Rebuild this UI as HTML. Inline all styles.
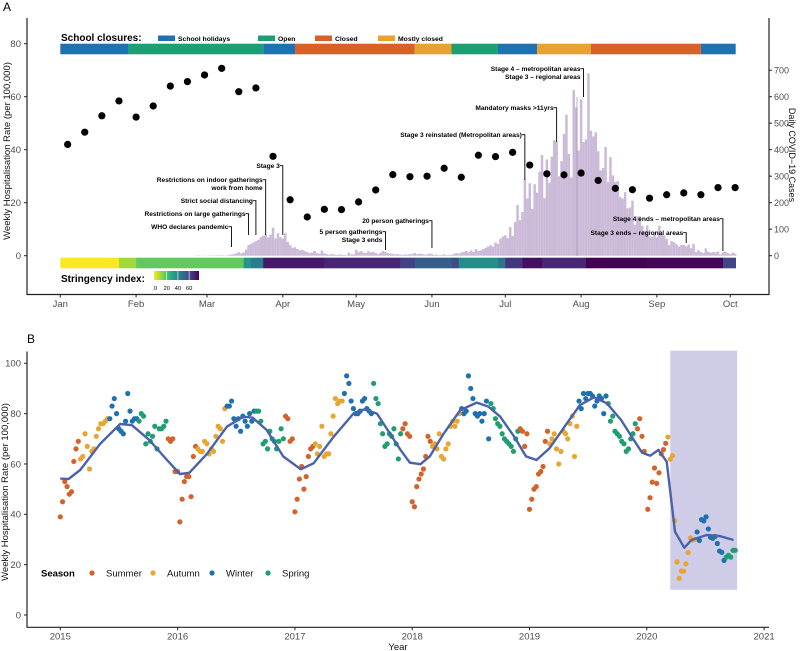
<!DOCTYPE html>
<html><head><meta charset="utf-8"><style>
html,body{margin:0;padding:0;background:#fff;}
svg{display:block;font-family:"Liberation Sans",Arial,sans-serif;}
.tk{font-size:9.5px;fill:#4d4d4d;}
.tkr{font-size:9px;fill:#4d4d4d;}
.ann{font-size:6.6px;font-weight:bold;fill:#000;}
.lg{font-size:6.8px;font-weight:bold;fill:#000;}
</style></head><body>
<svg id="chart" width="800" height="651" viewBox="0 0 800 651" xmlns="http://www.w3.org/2000/svg">
<g id="pa"></g>
<g id="pb"></g>
</svg>
<script>
// ---------- Panel A data ----------
const monthLabels = ["Jan","Feb","Mar","Apr","May","Jun","Jul","Aug","Sep","Oct"];
const monthStartDays = [0,31,60,91,121,152,182,213,244,274];
const hospTicks = [0,20,40,60,80];
const caseTicks = [0,100,200,300,400,500,600,700];
const hospWeekStartDay = 3;
const hosp2020 = [42,46.6,52.8,58.4,52.3,56.5,64,65.7,68.2,70.7,61.9,63.3,37.5,21.1,14.6,17.5,17.4,20.3,24.8,30.6,29.8,30,33,29.6,37.9,37.4,39,34.2,30.9,30.5,31.2,28.4,25.4,24.9,21.7,23,23.7,23,25.7,25.7];
const caseStartDay = 45;
const dailyCases = [0,0,0,0,0,0,0,0,0,0,0,1,1,0,1,
0,1,1,1,2,1,2,1,1,3, 5,6,9,13,8,12,23,40,45,50, 55,60,70,75,80,69,79,106,65,85,
70,65,85,52,40,30,32,25,20,22, 17,14,10,12,18,10,8,20,9,6, 4,6,5,3,5,4,3,2,12,5,
5,22,14,18,12,10,17,13,15,10, 6,12,18,14,10,8,7,5,6,4, 3,5,4,6,7,10,6,8,6,4,
5,8,6,3,4,2,3,5,2,3, 4,7,10,8,12,14,18,13,20,15, 25,18,20,25,30,35,40,34,50,45,
64,73,77,66,108,74,127,191,134,165, 288,216,273,177,270,238,317,380,217,363,
275,374,436,430,300,357,459,532,384,295, 625,560,397,590,429,439,688,471,450,466,
394,322,331,410,278,372,303,279,282,222, 216,240,179,182,208,116,148,149,113,94,
114,73,70,90,70,113,81,76,63,41, 55,51,43,35,41,41,35,42,28,45,
14,21,14,11,28,15,12,14,12,16, 5,13,15,10,6,12,8];
const closureStartDays = [0,28,83,96,145,160,179,195,217,262,277];
const closureTypes = ["School holidays","Open","School holidays","Closed","Mostly closed","Open","School holidays","Mostly closed","Closed","School holidays"];
const closureLegend = ["School holidays","Open","Closed","Mostly closed"];
const stringencyStartDays = [0,24,31,75,78,83,108,139,145,160,163,179,182,189,197,215,240,271,277];
const stringencyValues = [0,11,19,37,45,73,70,63,55,60,40,48,66,75,70,80,77,62];
const stringencyTicks = [0,20,40,60];
const annDays = [70,77,80,84,91,152,133,190,203,214,271,256];
const annLabels = [["WHO declares pandemic"],["Restrictions on large gatherings"],["Strict social distancing"],["Restrictions on indoor gatherings","work from home"],["Stage 3"],["20 person gatherings"],["5 person gatherings","Stage 3 ends"],["Stage 3 reinstated (Metropolitan areas)"],["Mandatory masks >11yrs"],["Stage 4 \u2013 metropolitan areas","Stage 3 \u2013 regional areas"],["Stage 4 ends \u2013 metropolitan areas"],["Stage 3 ends \u2013 regional areas"]];
const annTextY = [229,216,203,182,168,223,234,137,110,71,221,235];
const annBottomY = [247,235,235,235,235,248,250,180,142,97,251,243];

// ---------- Panel B data ----------
const yearTicks = [2015,2016,2017,2018,2019,2020,2021];
const rateTicks = [0,20,40,60,80,100];
const seasonNames = ["Summer","Autumn","Winter","Spring"];
const hosp2015 = [39,45,53,51,48,49,61,66,69,62,63,72,67,58,65,66,71,74,76,76,77,78,78,83,86,80,74,73,72,77,88,81,77,78,78,77,80,79,68,72,69,71,75,66,74,74,75,77,70,69,70,57];
const hosp2016 = [57,37,46,53,55,55,47,63,67,66,65,65,69,68,64,66,65,71,75,74,69,82,83,83,85,78,75,78,73,79,77,75,80,77,81,81,81,77,68,69,66,73,70,69,66,69,74,70,79,78,69,70];
const hosp2017 = [41,46,54,59,50,55,63,66,67,68,64,67,75,63,64,64,72,79,86,84,85,85,88,95,92,85,82,80,80,81,85,86,82,81,80,92,86,84,76,72,67,68,72,71,74,68,62,72,74,76,72,71];
const hosp2018 = [45,43,51,54,56,58,63,71,69,67,68,66,72,63,62,66,68,75,77,75,77,80,82,80,81,95,90,86,80,79,80,77,80,85,70,84,82,78,76,75,72,70,69,68,67,65,70,73,74,73,67,72];
const hosp2019 = [42,46,50,51,56,57,59,69,73,68,70,72,66,60,65,73,72,70,76,79,63,75,85,82,88,86,88,88,87,83,85,87,86,80,87,84,77,79,73,72,71,69,68,65,66,70,72,76,74,78,71,65];
const smoothYears = [2015.0,2015.07,2015.17,2015.34,2015.51,2015.61,2015.76,2015.91,2016.02,2016.1,2016.25,2016.42,2016.56,2016.64,2016.76,2016.9,2017.05,2017.16,2017.33,2017.5,2017.59,2017.7,2017.9,2017.98,2018.07,2018.15,2018.27,2018.41,2018.55,2018.65,2018.75,2018.87,2018.97,2019.06,2019.17,2019.32,2019.43,2019.55,2019.66,2019.78,2019.89,2019.96,2020.03,2020.1,2020.17,2020.24,2020.32,2020.38,2020.51,2020.62,2020.74];
const smoothValues = [54.2,54,57.6,68,75.9,75.4,69.5,61.6,56,56.5,64,74.8,78.8,78.4,73.5,63,57.9,60.3,70.8,80.1,81.7,80,65.6,60.5,59.9,63,72.2,81.4,84.4,82.8,78.8,70.8,63,61.6,66.2,76.2,83.4,86.5,84.1,77.5,69.5,64.5,63.3,65.6,60.9,33.1,26.7,29.8,31.8,31.4,29.8];
const covidPeriod = [2020.2, 2020.77];
const covidPeriodRange = [10, 105];

const NS="http://www.w3.org/2000/svg";
function mk(parent,tag,attrs,text){const e=document.createElementNS(NS,tag);for(const k in attrs)e.setAttribute(k,attrs[k]);if(text!==undefined)e.textContent=text;parent.appendChild(e);return e;}

// ---------- Panel A scales ----------
const xA=d=>60.3+d*2.445;
const yA=v=>255.7-v*2.65;
const yC=c=>255.7-c*0.265;
const closureColor={"School holidays":"#1f72b2","Open":"#1f9e74","Closed":"#d8612a","Mostly closed":"#e8a22f"};
const vir=[[0,68,1,84],[0.1,72,36,117],[0.2,65,68,135],[0.3,53,95,141],[0.4,42,120,142],[0.5,33,145,140],[0.6,34,168,132],[0.7,68,191,112],[0.8,122,209,81],[0.9,189,223,38],[1,253,231,37]];
function viridis(t){t=Math.max(0,Math.min(1,t));for(let i=1;i<vir.length;i++){if(t<=vir[i][0]){const a=vir[i-1],b=vir[i],f=(t-a[0])/(b[0]-a[0]);return `rgb(${Math.round(a[1]+f*(b[1]-a[1]))},${Math.round(a[2]+f*(b[2]-a[2]))},${Math.round(a[3]+f*(b[3]-a[3]))})`;}}return "rgb(253,231,37)";}
const sColor=v=>viridis(1-v/78);

const pa=document.getElementById('pa');
let t=mk(pa,'text',{x:3,y:11,'font-size':12});t.textContent="A";



// bars
const barsG=mk(pa,'g',{});


dailyCases.forEach((c,i)=>{const d=caseStartDay+i;const y=yC(c);
 const r=mk(barsG,'rect',{x:xA(d)-1.22,y:y,width:2.5,height:Math.max(0,255.7-y),fill:'#cbbad8'});
 
 
});
mk(pa,'line',{x1:577,y1:97,x2:577,y2:256,stroke:'#a08fb2','stroke-width':0.7});

// axes
let ax=mk(pa,'path',{d:'M27,18 V294.5 H769 V18',fill:'none',stroke:'#222','stroke-width':1.2});


hospTicks.forEach(v=>{mk(pa,'line',{x1:24,x2:27,y1:yA(v),y2:yA(v),stroke:'#222'});
 const e=mk(pa,'text',{x:21,y:yA(v)+3.3,'text-anchor':'end',class:'tk'},String(v));
 
 });
caseTicks.forEach(v=>{mk(pa,'line',{x1:769,x2:772,y1:yC(v),y2:yC(v),stroke:'#222'});
 const e=mk(pa,'text',{x:774,y:yC(v)+3.2,class:'tkr'},String(v));
 
 });
monthLabels.forEach((m,i)=>{const x=xA(monthStartDays[i]);mk(pa,'line',{x1:x,x2:x,y1:294.5,y2:297.5,stroke:'#222'});
 const e=mk(pa,'text',{x:x,y:307,'text-anchor':'middle',class:'tk'},m);
 
 });
t=mk(pa,'text',{transform:'translate(10,151) rotate(-90)','text-anchor':'middle','font-size':9.5,fill:'#111'},"Weekly Hospitalisation Rate (per 100,000)");


t=mk(pa,'text',{transform:'translate(789,155) rotate(90)','text-anchor':'middle','font-size':9,fill:'#111'},"Daily COVID\u221219 Cases");



// school closures
for(let i=0;i<closureTypes.length;i++){const x0=xA(closureStartDays[i]),x1=xA(closureStartDays[i+1]);
 const r=mk(pa,'rect',{x:x0,y:43.7,width:Math.min(x1,735.7)-x0,height:10.6,fill:closureColor[closureTypes[i]]});
 
 }
t=mk(pa,'text',{x:61,y:41,'font-size':10,'font-weight':'bold'},"School closures:");


const legX=[158,258,315,378];
closureLegend.forEach((n,i)=>{const g=mk(pa,'g',{});
 
 
 mk(g,'rect',{x:legX[i],y:35.5,width:17,height:5.5,fill:closureColor[n]});
 mk(g,'text',{x:legX[i]+20,y:41,class:'lg'},n);});

// stringency
for(let i=0;i<stringencyValues.length;i++){const x0=xA(stringencyStartDays[i]),x1=Math.min(xA(stringencyStartDays[i+1]),735.7);
 const r=mk(pa,'rect',{x:x0,y:257.7,width:x1-x0+0.3,height:10.6,fill:sColor(stringencyValues[i])});
 
 }
t=mk(pa,'text',{x:61,y:282,'font-size':10,'font-weight':'bold'},"Stringency index:");


const defs=mk(document.getElementById('chart'),'defs',{});
const lg=mk(defs,'linearGradient',{id:'sg',x1:0,x2:1,y1:0,y2:0});
for(let k=0;k<=10;k++)mk(lg,'stop',{offset:k/10,'stop-color':sColor(k*7.8)});
const sgr=mk(pa,'rect',{x:154,y:271,width:45,height:9,fill:'url(#sg)'});


stringencyTicks.forEach(v=>{const x=155.5+v*0.56;
 if(v>0)mk(pa,'line',{x1:x,x2:x,y1:271,y2:280,stroke:'#fff','stroke-width':0.6});
 const e=mk(pa,'text',{x:x,y:290,'text-anchor':'middle','font-size':5.8,fill:'#000'},String(v));
 
 });

// annotations
annDays.forEach((d,i)=>{const x=xA(d);const g=mk(pa,'g',{});
 
 
 const ty=annTextY[i];
 mk(g,'path',{d:`M${x-3},${ty-2.3} H${x} V${annBottomY[i]}`,fill:'none',stroke:'#000','stroke-width':0.9});
 annLabels[i].forEach((s,j)=>mk(g,'text',{x:x-3,y:ty+j*8,'text-anchor':'end',class:'ann'},s));});

// hosp dots
hosp2020.forEach((v,i)=>{const c=mk(pa,'circle',{cx:xA(hospWeekStartDay+i*7),cy:yA(v),r:3.6,fill:'#000'});
 
 });

// ---------- Panel B ----------
const pb=document.getElementById('pb');
const xB=yr=>60.3+(yr-2015)*117.3;
const yB=v=>615-v*2.517;
const seasonColor={"Summer":"#d4622b","Autumn":"#e7a532","Winter":"#1d71b0","Spring":"#1f9d73"};
function seasonOf(m){return (m===11||m<=1)?"Summer":(m<=4?"Autumn":(m<=7?"Winter":"Spring"));}

t=mk(pb,'text',{x:27,y:343,'font-size':12},"B");


let shade=mk(pb,'rect',{x:xB(covidPeriod[0]),y:yB(covidPeriodRange[1]),width:xB(covidPeriod[1])-xB(covidPeriod[0]),height:yB(covidPeriodRange[0])-yB(covidPeriodRange[1]),fill:'#cfcce8'});


ax=mk(pb,'path',{d:'M27,351.5 V627.3 H769',fill:'none',stroke:'#222','stroke-width':1.2});


rateTicks.forEach(v=>{mk(pb,'line',{x1:24,x2:27,y1:yB(v),y2:yB(v),stroke:'#222'});
 const e=mk(pb,'text',{x:21,y:yB(v)+3.3,'text-anchor':'end',class:'tk'},String(v));
 
 });
yearTicks.forEach(yr=>{const x=xB(yr);mk(pb,'line',{x1:x,x2:x,y1:627.3,y2:630.3,stroke:'#222'});
 const e=mk(pb,'text',{x:x,y:639.5,'text-anchor':'middle',class:'tk'},String(yr));
 
 });
t=mk(pb,'text',{x:398,y:650,'text-anchor':'middle','font-size':9.5,fill:'#111'},"Year");


t=mk(pb,'text',{transform:'translate(8,492) rotate(-90)','text-anchor':'middle','font-size':9.5,fill:'#111'},"Weekly Hospitalisation Rate (per 100,000)");



const series=[[2015,hosp2015],[2016,hosp2016],[2017,hosp2017],[2018,hosp2018],[2019,hosp2019]];
const ptsG=mk(pb,'g',{});


function addPt(yr,day,v,daysInYear){const dt=new Date(Date.UTC(yr,0,1+day));const s=seasonOf(dt.getUTCMonth());
 const c=mk(ptsG,'circle',{cx:xB(yr+day/daysInYear),cy:yB(v),r:2.6,fill:seasonColor[s]});
 
 }
series.forEach(([yr,arr])=>arr.forEach((v,i)=>addPt(yr,i*7,v,365)));
hosp2020.forEach((v,i)=>addPt(2020,hospWeekStartDay+i*7,v,366));

let dstr='';smoothYears.forEach((yr,i)=>{dstr+=(i?'L':'M')+xB(yr).toFixed(1)+','+yB(smoothValues[i]).toFixed(1);});
const sm=mk(pb,'path',{d:dstr,fill:'none',stroke:'#4a62ac','stroke-width':2.4,'stroke-linejoin':'round'});



const lgB=mk(pb,'g',{});


mk(lgB,'text',{x:41,y:576.5,'font-size':9.5,'font-weight':'bold'},"Season");
const lgx=[92,153,212,268];
seasonNames.forEach((s,i)=>{const g=mk(lgB,'g',{});
 
 
 mk(g,'circle',{cx:lgx[i],cy:573,r:2.6,fill:seasonColor[s]});
 mk(g,'text',{x:lgx[i]+14,y:576.5,'font-size':9.5,fill:'#111'},s);});
</script>
</body></html>
